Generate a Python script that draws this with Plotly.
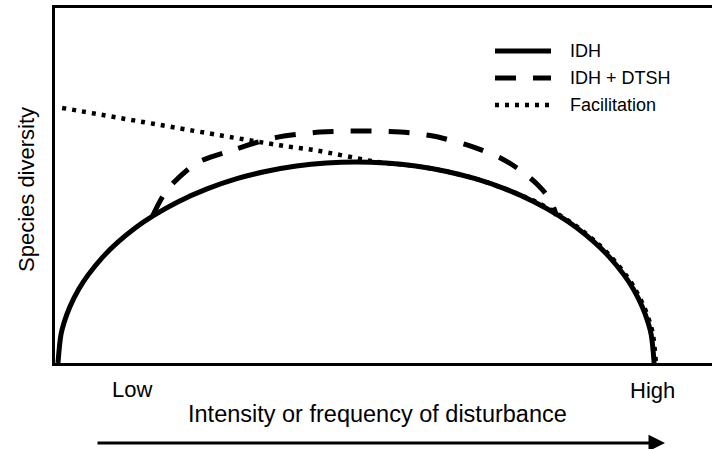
import plotly.graph_objects as go

# ---- data ----
# x: intensity/frequency of disturbance (0 = low end of curve, 1 = high end)
# y: species diversity (peak of IDH curve = 1)
idh_x = [0, 0.005, 0.01, 0.02, 0.035, 0.05, 0.075, 0.1, 0.13, 0.16, 0.2, 0.25, 0.3, 0.35,
         0.4, 0.45, 0.5, 0.55, 0.6, 0.65, 0.7, 0.75, 0.8, 0.84, 0.87, 0.9, 0.925, 0.95,
         0.965, 0.98, 0.99, 0.995, 1.0]
idh_y = [0, 0.141, 0.199, 0.28, 0.368, 0.436, 0.527, 0.6, 0.673, 0.733, 0.8, 0.866, 0.917,
         0.954, 0.98, 0.995, 1.0, 0.995, 0.98, 0.954, 0.917, 0.866, 0.8, 0.733, 0.673, 0.6,
         0.527, 0.436, 0.368, 0.28, 0.199, 0.141, 0]

dtsh_x = [0.159, 0.183, 0.233, 0.294, 0.361, 0.440, 0.507, 0.574, 0.629, 0.691, 0.742,
          0.775, 0.805, 0.826, 0.836]
dtsh_y = [0.733, 0.861, 0.995, 1.060, 1.119, 1.149, 1.154, 1.149, 1.129, 1.080, 1.020,
          0.960, 0.886, 0.811, 0.733]

fac_x = [0.007, 0.372, 0.428, 0.535, 0.55, 0.6, 0.65, 0.7, 0.75, 0.803, 0.843, 0.873,
         0.903, 0.928, 0.953, 0.968, 0.983, 0.993, 0.998, 1.003]
fac_y = [1.269, 1.083, 1.06, 1.0, 0.995, 0.98, 0.954, 0.917, 0.866, 0.8, 0.733, 0.673,
         0.6, 0.527, 0.436, 0.368, 0.28, 0.199, 0.141, 0]

series_names = ["IDH", "IDH + DTSH", "Facilitation"]
x_title = "Intensity or frequency of disturbance"
y_title = "Species diversity"
x_end_labels = ["Low", "High"]

FONT = "Liberation Sans, Arial, Helvetica, sans-serif"
W, H = 712, 449
ML, MR, MT, MB = 55, 0, 8, 86
PW, PH = W - ML - MR, H - MT - MB


def px(xp):
    return (xp - ML) / PW


def py(yp):
    return (H - MB - yp) / PH


styles = [
    dict(color="black", width=5, dash="solid"),
    dict(color="black", width=5, dash="21px,17px"),
    dict(color="black", width=4.5, dash="4px,6px"),
]

fig = go.Figure()
fig.add_trace(go.Scatter(x=fac_x, y=fac_y, mode="lines", name=series_names[2],
                         line=dict(**styles[2], shape="spline", smoothing=0.8),
                         showlegend=False))
fig.add_trace(go.Scatter(x=dtsh_x, y=dtsh_y, mode="lines", name=series_names[1],
                         line=dict(**styles[1], shape="spline", smoothing=0.8),
                         showlegend=False))
fig.add_trace(go.Scatter(x=idh_x, y=idh_y, mode="lines", name=series_names[0],
                         line=dict(**styles[0], shape="spline", smoothing=1.0),
                         showlegend=False))

shapes = []
annotations = []
# manual legend
leg_y = [51, 78, 105]
for name, st, yy in zip(series_names, styles, leg_y):
    shapes.append(dict(type="line", xref="paper", yref="paper",
                       x0=px(495), x1=px(551), y0=py(yy), y1=py(yy),
                       line=dict(color="black", width=st["width"], dash=st["dash"])))
    annotations.append(dict(text=name, xref="paper", yref="paper", x=px(568), y=py(yy),
                            xanchor="left", yanchor="middle", showarrow=False,
                            font=dict(family=FONT, size=18, color="black")))

annotations += [
    dict(text=y_title, xref="paper", yref="paper", x=px(26), y=py(190), textangle=-90,
         xanchor="center", yanchor="middle", showarrow=False,
         font=dict(family=FONT, size=22, color="black")),
    dict(text=x_end_labels[0], xref="paper", yref="paper", x=px(132), y=py(390),
         xanchor="center", yanchor="middle", showarrow=False,
         font=dict(family=FONT, size=22, color="black")),
    dict(text=x_end_labels[1], xref="paper", yref="paper", x=px(652), y=py(391),
         xanchor="center", yanchor="middle", showarrow=False,
         font=dict(family=FONT, size=22, color="black")),
    dict(text=x_title, xref="paper", yref="paper", x=px(377), y=py(414),
         xanchor="center", yanchor="middle", showarrow=False,
         font=dict(family=FONT, size=23.5, color="black")),
    dict(text="", xref="paper", yref="paper", x=px(665), y=py(443),
         ax=96 - 665, ay=0, axref="pixel", ayref="pixel", showarrow=True,
         arrowhead=2, arrowsize=1.1, arrowwidth=3, arrowcolor="black"),
]

fig.update_layout(
    width=W, height=H,
    margin=dict(l=ML, r=MR, t=MT, b=MB),
    paper_bgcolor="white", plot_bgcolor="white",
    shapes=shapes, annotations=annotations,
    xaxis=dict(range=[-0.005, 1.097], showgrid=False, zeroline=False, showticklabels=False,
               ticks="", showline=True, mirror=True, linecolor="black", linewidth=3),
    yaxis=dict(range=[0, 1.766], showgrid=False, zeroline=False, showticklabels=False,
               ticks="", showline=True, mirror=False, linecolor="black", linewidth=3),
)

fig.write_html("out.html")
